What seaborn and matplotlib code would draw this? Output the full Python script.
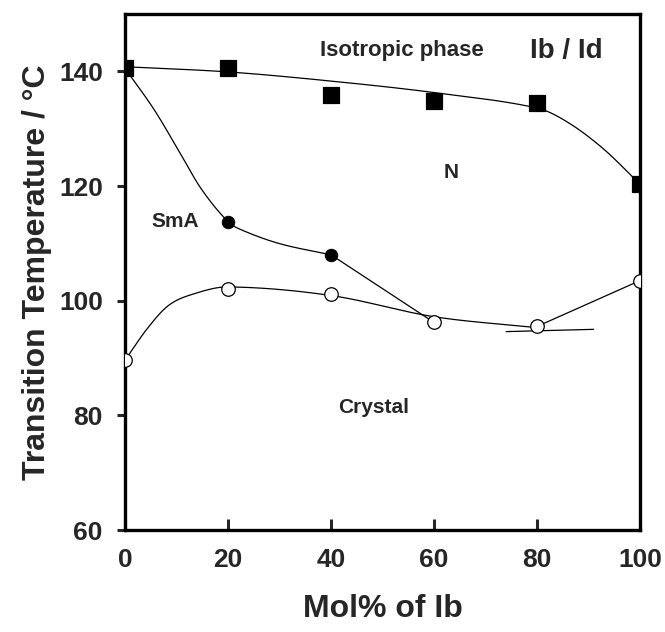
import numpy as np
import pandas as pd
import matplotlib
matplotlib.use("Agg")
import matplotlib.pyplot as plt
import seaborn as sns

# ---- data ----
mol = [0, 20, 40, 60, 80, 100]
clearing_T = [140.5, 140.5, 135.8, 134.8, 134.5, 120.3]     # squares (Iso transition)
sma_mol = [0, 20, 40]
sma_T = [140.5, 113.8, 108.0]                                # filled circles (SmA-N)
melt_T = [89.6, 102.1, 101.2, 96.2, 95.5, 103.5]             # open circles (melting)

# guide-curve knots (hand drawn trend lines)
iso_knot_x = [0, 20, 40, 60, 80, 86, 93, 100]
iso_knot_y = [140.8, 139.9, 138.3, 136.3, 133.6, 131.1, 126.4, 120.3]
sma_knot_x = [0, 5.6, 10.6, 14.8, 20, 23, 30.2, 40]
sma_knot_y = [140.5, 133.4, 125.9, 119.5, 113.8, 112.2, 109.9, 108.0]
sma_line_x = [40, 60]
sma_line_y = [108.0, 96.2]
melt_knot_x = [0, 4.3, 8.5, 13.4, 20, 40, 60, 80]
melt_knot_y = [89.6, 95.1, 99.2, 101.2, 102.4, 100.9, 97.2, 95.3]
melt_line_x = [80, 100]
melt_line_y = [95.5, 103.5]
eut_line_x = [74, 91]
eut_line_y = [94.6, 95.0]

labels = ["Isotropic phase", "Ib / Id", "N", "SmA", "Crystal"]


def smooth(xk, yk, n=40):
    xk = np.asarray(xk, float)
    yk = np.asarray(yk, float)
    m = np.empty_like(yk)
    m[1:-1] = (yk[2:] - yk[:-2]) / (xk[2:] - xk[:-2])
    m[0] = (yk[1] - yk[0]) / (xk[1] - xk[0])
    m[-1] = (yk[-1] - yk[-2]) / (xk[-1] - xk[-2])
    xs, ys = [], []
    for i in range(len(xk) - 1):
        h = xk[i + 1] - xk[i]
        t = np.linspace(0, 1, n, endpoint=(i == len(xk) - 2))
        h00 = 2 * t**3 - 3 * t**2 + 1
        h10 = t**3 - 2 * t**2 + t
        h01 = -2 * t**3 + 3 * t**2
        h11 = t**3 - t**2
        xs.append(xk[i] + t * h)
        ys.append(h00 * yk[i] + h10 * h * m[i] + h01 * yk[i + 1] + h11 * h * m[i + 1])
    return pd.DataFrame({"x": np.concatenate(xs), "y": np.concatenate(ys)})


sns.set_theme(style="white")
plt.rcParams["font.family"] = ["Liberation Sans", "DejaVu Sans"]
plt.rcParams["font.weight"] = "bold"

fig = plt.figure(figsize=(6.65, 6.32), dpi=100)
ax = fig.add_axes([125 / 665, 1 - 530 / 632, 515 / 665, 516 / 632])

lw = 0.9
for df in [smooth(iso_knot_x, iso_knot_y), smooth(sma_knot_x, sma_knot_y),
           smooth(melt_knot_x, melt_knot_y),
           pd.DataFrame({"x": sma_line_x, "y": sma_line_y}),
           pd.DataFrame({"x": melt_line_x, "y": melt_line_y}),
           pd.DataFrame({"x": eut_line_x, "y": eut_line_y})]:
    sns.lineplot(data=df, x="x", y="y", sort=False, estimator=None,
                 color="black", linewidth=lw, ax=ax, zorder=2)

sns.scatterplot(x=mol, y=clearing_T, marker="s", s=120, color="black",
                edgecolor="black", ax=ax, zorder=4)
sns.scatterplot(x=sma_mol[1:], y=sma_T[1:], marker="o", s=80, color="black",
                edgecolor="black", ax=ax, zorder=4)
sns.scatterplot(x=mol, y=melt_T, marker="o", s=95, facecolor="white",
                edgecolor="black", linewidth=0.9, ax=ax, zorder=3)

ax.set_xlim(0, 100)
ax.set_ylim(60, 150)
ax.set_xticks([0, 20, 40, 60, 80, 100])
ax.set_yticks([60, 80, 100, 120, 140])
ax.tick_params(axis="x", direction="in", length=8, width=2.2, pad=13,
               labelsize=19, bottom=True)
ax.tick_params(axis="y", direction="out", length=6, width=2.2, pad=10,
               labelsize=19, left=True)
for lab in ax.get_xticklabels() + ax.get_yticklabels():
    lab.set_fontweight("bold")
for sp in ax.spines.values():
    sp.set_linewidth(2.4)
    sp.set_color("black")
    sp.set_visible(True)

ax.set_xlabel("Mol% of Ib", fontsize=23, fontweight="bold", labelpad=16)
ax.set_ylabel("Transition Temperature / °C", fontsize=23, fontweight="bold",
              labelpad=5)

ax.text(53.7, 143.6, labels[0], fontsize=16, fontweight="bold", ha="center", va="center")
ax.text(85.6, 143.6, labels[1], fontsize=20, fontweight="bold", ha="center", va="center")
ax.text(63.4, 122.4, labels[2], fontsize=15, fontweight="bold", ha="center", va="center")
ax.text(9.7, 113.8, labels[3], fontsize=15, fontweight="bold", ha="center", va="center")
ax.text(48.2, 81.4, labels[4], fontsize=15, fontweight="bold", ha="center", va="center")

fig.savefig("out.png", dpi=100)
